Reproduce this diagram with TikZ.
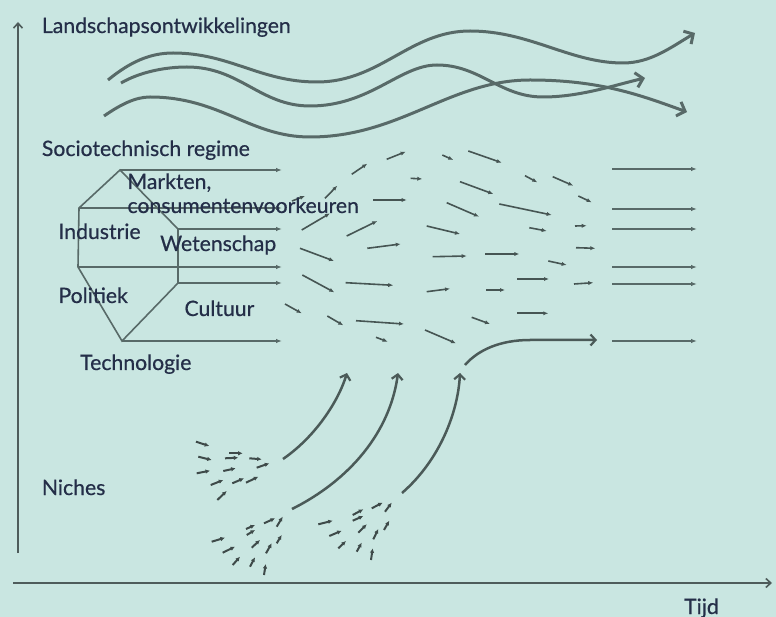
\documentclass[tikz,border=0pt]{standalone}
\usepackage{fontspec}
\setmainfont{Lato}
\usetikzlibrary{arrows.meta}
\definecolor{bg}{RGB}{201,230,225}
\definecolor{ln}{RGB}{88,106,104}
\definecolor{ax}{RGB}{78,92,91}
\definecolor{tx}{RGB}{36,46,72}
\begin{document}
\begin{tikzpicture}[x=1pt,y=-1pt,
 lbl/.style={anchor=base west, inner sep=0pt, text=tx, font=\fontsize{21.2}{23}\selectfont\addfontfeatures{FakeBold=0.6}},
 axisline/.style={draw=ax, line width=2pt, -{Straight Barb[length=5pt,width=9pt,line width=1.6pt]}},
 wave/.style={draw=ln, line width=3pt, -{Straight Barb[length=7pt,width=15pt,line width=3pt]}},
 regarrow/.style={draw=ln, line width=1.6pt, -{Latex[length=6pt,width=4.5pt]}},
 hexedge/.style={draw=ln, line width=1.6pt},
 fieldarrow/.style={draw=ln!80!black, line width=1.6pt, -{Latex[length=5pt,width=4.2pt]}},
 nicharrow/.style={draw=ln!70!black, line width=2pt, -{Latex[length=4.5pt,width=4.5pt]}},
 bigcurve/.style={draw=ln!85!black, line width=2.5pt, -{Straight Barb[length=5pt,width=11pt,line width=2.2pt]}},
]
\fill[bg] (0,0) rectangle (776,617);
\useasboundingbox (0,0) rectangle (776,617);

% axes
\coordinate (yb) at (18,553);
\coordinate (yt) at (18,22);
\coordinate (xl) at (13,583);
\coordinate (xr) at (772,583);
\draw[axisline] (yb) -- (yt);
\draw[axisline] (xl) -- (xr);

% landscape waves
\draw[wave] (108,80) .. controls (130,62) and (150,53) .. (173,53)
  .. controls (230,53) and (260,82) .. (317,82)
  .. controls (380,82) and (410,31) .. (470,31)
  .. controls (530,31) and (570,63) .. (623,63)
  .. controls (650,63) and (670,48) .. (695,33);
\draw[wave] (121,83) .. controls (140,72) and (165,67) .. (187,67)
  .. controls (240,67) and (260,106) .. (310,106)
  .. controls (370,106) and (400,65) .. (437,65)
  .. controls (480,65) and (500,97) .. (543,97)
  .. controls (580,97) and (615,85) .. (645,78);
\draw[wave] (104,116) .. controls (120,105) and (135,97) .. (150,97)
  .. controls (220,97) and (250,137) .. (310,137)
  .. controls (400,137) and (450,80) .. (530,80)
  .. controls (600,80) and (640,95) .. (687,112);

% hexagon
\coordinate (T) at (120,170);
\coordinate (UR) at (178,229);
\coordinate (LR) at (178,283);
\coordinate (B) at (122,341);
\coordinate (LL) at (78,267);
\coordinate (UL) at (79,208);
\draw[hexedge] (T) -- (UR) -- (LR) -- (B) -- (LL) -- (UL) -- cycle;

% regime arrows (left)
\coordinate (eT) at (282,170);
\coordinate (eUL) at (282,208);
\coordinate (eUR) at (282,229);
\coordinate (eLL) at (282,267);
\coordinate (eLR) at (282,283);
\coordinate (eB) at (282,341);
\foreach \s in {T,UL,UR,LL,LR,B} \draw[regarrow] (\s) -- (e\s);

% regime arrows (right)
\foreach \yy in {169,209,229,267,284,341} {
  \coordinate (rs\yy) at (612,\yy);
  \coordinate (re\yy) at (697,\yy);
  \draw[regarrow] (rs\yy) -- (re\yy);
}

% field arrows
\foreach \xa/\ya/\xb/\yb in {
386.7/159.3/405.7/151.7, 351.7/174.3/367.3/163.7, 325/198.3/337.3/185.7,
442.3/155/453.3/160, 468.3/151/501.7/162.7, 410.7/178.3/422.3/179,
460/181.7/493.3/194, 525/175.7/537.3/182.3, 552.7/176.7/573.3/185.7,
578.3/196/591.7/202.3, 373.3/200/406.7/200, 301.7/230/330/213.3,
446.7/202.7/479/216.7, 499.3/204/551.7/215, 346.7/236/377.3/221,
426.7/226/460/234, 529.3/227.7/546.7/231, 575/226/586.7/225.7,
367.3/248.3/400.7/244, 300/248.3/334/261, 432.7/256.7/466.7/256,
485/254/519.3/254, 576/247.7/595.3/248.3, 548.3/261/566.7/265,
302.3/275/334.3/292.3, 345.7/282.7/393.3/285.3, 426.7/291.7/450/288.7,
486/290/505/290, 517.3/279/549/279, 574/284/593.3/282.7,
285/304/301.7/313.3, 327.3/316/343.3/325.3, 356/320.7/404/324,
471.7/317.3/490/324, 517.3/313.3/548.3/313.3, 425/330/456/343.3,
376/337.3/387.7/341.7, 292/201/305/196}
  \draw[fieldarrow] (\xa,\ya) -- (\xb,\yb);

% niche arrows
\foreach \xa/\ya/\xb/\yb in {
196/441.7/209.3/446, 198.3/456.7/211.7/460, 229.3/453.3/242.7/453.3,
225/458.3/238.3/457.7, 249.3/458.3/261.7/459.3, 256.7/467.7/269.3/463.3,
196.7/473.3/210/470.7, 223.3/471/235.7/468.3, 210.7/485/223.3/480,
232.3/483.3/244/478.3, 246/482.7/258.3/476.7, 217.3/500/226.7/491,
264/523.3/275/518.3, 276.7/526.7/282.7/516.7, 246/529/255/525,
246.7/535/255/530, 211.7/541.7/225/537.7, 251.7/547.7/260/540,
276.7/543.3/281.7/535, 222.7/552.7/235/546.7, 266/553.3/271.7/543.3,
232.7/565/240/556.7, 250/566.7/255/557.3, 264/575/265.7/564,
371.7/508.3/382.7/502.7, 385/511.7/391.7/502.7, 352.7/515/363.3/509.3,
352.7/520.7/363.3/516, 318.3/524.3/332.7/520.7, 358.3/532.7/366.7/524.3,
384/530/389.3/520.7, 329.3/536/341.7/530.7, 373.3/539.3/378.3/529,
338.3/548.3/346/541, 356.7/551.7/361.7/542.7, 371/560/372.7/548.3}
  \draw[nicharrow] (\xa,\ya) -- (\xb,\yb);

% niche breakthrough curves
\coordinate (n1s) at (283,459);  \coordinate (n1e) at (347,373);
\coordinate (n2s) at (292,509);  \coordinate (n2e) at (398,373);
\coordinate (n3s) at (402,493);  \coordinate (n3e) at (460,373);
\draw[bigcurve] (n1s) .. controls (315,437) and (338,402) .. (n1e);
\draw[bigcurve] (n2s) .. controls (350,480) and (390,432) .. (n2e);
\draw[bigcurve] (n3s) .. controls (440,460) and (458,412) .. (n3e);
\coordinate (rgs) at (465,365);  \coordinate (rge) at (597,340);
\draw[bigcurve] (rgs) .. controls (478,350) and (500,340) .. (530,340) -- (rge);

% labels
\node[lbl] (land) at (41.7,33) {Landschapsontwikkelingen};
\node[lbl] (regime) at (41.7,156) {Sociotechnisch regime};
\node[lbl] (markt) at (127.3,189) {Markten,};
\node[lbl] (consu) at (127.3,213) {consumentenvoorkeuren};
\node[lbl] (indus) at (58.3,239) {Industrie};
\node[lbl] (weten) at (160,251) {Wetenschap};
\node[lbl] (polit) at (58.3,303) {Politiek};
\node[lbl] (cult) at (184.3,316) {Cultuur};
\node[lbl] (techn) at (80,370) {Technologie};
\node[lbl] (niche) at (41.7,495) {Niches};
\node[lbl] (tijd) at (684,614) {Tijd};
\end{tikzpicture}
\end{document}
